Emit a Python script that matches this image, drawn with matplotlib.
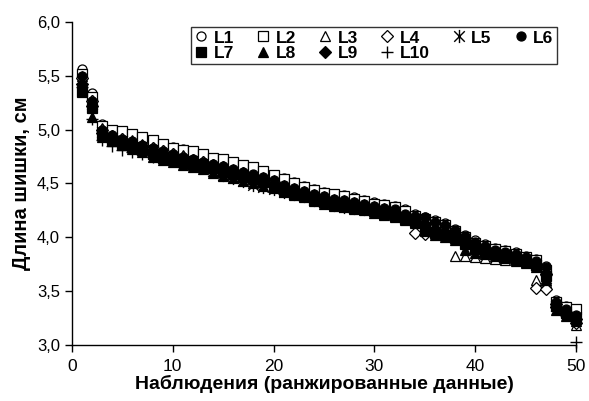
import matplotlib
matplotlib.use("Agg")
import matplotlib.pyplot as plt
from matplotlib.ticker import FuncFormatter
from matplotlib.path import Path
import numpy as np

# ranked cone length values, 50 observations per line
obs = np.arange(1, 51)

L1 = [5.56, 5.34, 5.05, 4.98, 4.95, 4.93, 4.92, 4.88, 4.86, 4.84, 4.82, 4.79, 4.76, 4.74, 4.71, 4.69, 4.66, 4.64, 4.61, 4.58,
      4.55, 4.51, 4.48, 4.45, 4.42, 4.40, 4.39, 4.37, 4.35, 4.33, 4.31, 4.29, 4.26, 4.22, 4.19, 4.16, 4.13, 4.08, 4.02, 3.97,
      3.94, 3.90, 3.88, 3.86, 3.83, 3.80, 3.73, 3.42, 3.36, 3.32]
L2 = [5.52, 5.30, 5.03, 5.00, 4.99, 4.96, 4.93, 4.90, 4.87, 4.83, 4.81, 4.80, 4.77, 4.74, 4.73, 4.70, 4.67, 4.65, 4.62, 4.58,
      4.54, 4.50, 4.47, 4.44, 4.41, 4.40, 4.38, 4.36, 4.34, 4.31, 4.30, 4.28, 4.24, 4.20, 4.17, 4.14, 4.11, 4.06, 4.00, 3.95,
      3.92, 3.89, 3.87, 3.84, 3.82, 3.79, 3.70, 3.40, 3.35, 3.33]
L3 = [5.50, 5.28, 5.02, 4.95, 4.92, 4.90, 4.87, 4.84, 4.81, 4.78, 4.76, 4.73, 4.71, 4.68, 4.66, 4.63, 4.61, 4.58, 4.56, 4.53,
      4.49, 4.46, 4.43, 4.40, 4.38, 4.36, 4.35, 4.33, 4.31, 4.29, 4.27, 4.25, 4.21, 4.17, 4.13, 4.08, 4.03, 3.83, 3.83, 3.82,
      3.81, 3.80, 3.79, 3.78, 3.76, 3.60, 3.58, 3.37, 3.30, 3.18]
L4 = [5.48, 5.27, 5.00, 4.94, 4.91, 4.88, 4.85, 4.83, 4.80, 4.77, 4.75, 4.72, 4.70, 4.67, 4.65, 4.62, 4.60, 4.57, 4.54, 4.51,
      4.47, 4.44, 4.41, 4.38, 4.36, 4.34, 4.33, 4.31, 4.29, 4.27, 4.25, 4.23, 4.20, 4.04, 4.03, 4.03, 4.02, 4.00, 3.97, 3.92,
      3.89, 3.86, 3.84, 3.81, 3.79, 3.53, 3.52, 3.35, 3.28, 3.20]
L5 = [5.45, 5.24, 4.98, 4.92, 4.89, 4.86, 4.83, 4.80, 4.77, 4.73, 4.70, 4.68, 4.65, 4.62, 4.58, 4.55, 4.52, 4.49, 4.47, 4.45,
      4.42, 4.40, 4.38, 4.35, 4.33, 4.30, 4.28, 4.27, 4.26, 4.25, 4.24, 4.22, 4.19, 4.16, 4.13, 4.10, 4.06, 4.02, 3.97, 3.92,
      3.89, 3.86, 3.84, 3.82, 3.80, 3.74, 3.62, 3.36, 3.31, 3.26]
L6 = [5.50, 5.27, 5.00, 4.95, 4.91, 4.89, 4.86, 4.83, 4.80, 4.77, 4.75, 4.73, 4.70, 4.68, 4.66, 4.63, 4.61, 4.59, 4.56, 4.53,
      4.49, 4.46, 4.43, 4.40, 4.38, 4.36, 4.35, 4.33, 4.31, 4.29, 4.27, 4.26, 4.22, 4.20, 4.19, 4.14, 4.11, 4.07, 4.01, 3.96,
      3.92, 3.88, 3.86, 3.84, 3.82, 3.78, 3.72, 3.40, 3.33, 3.28]
L7 = [5.35, 5.20, 4.95, 4.90, 4.87, 4.84, 4.81, 4.77, 4.74, 4.72, 4.70, 4.68, 4.66, 4.64, 4.61, 4.59, 4.56, 4.54, 4.51, 4.47,
      4.43, 4.40, 4.38, 4.35, 4.33, 4.31, 4.29, 4.27, 4.26, 4.24, 4.22, 4.20, 4.17, 4.14, 4.08, 4.04, 4.02, 3.99, 3.94, 3.89,
      3.86, 3.84, 3.82, 3.80, 3.78, 3.74, 3.64, 3.36, 3.30, 3.25]
L8 = [5.38, 5.12, 4.93, 4.89, 4.86, 4.82, 4.79, 4.75, 4.72, 4.70, 4.67, 4.65, 4.63, 4.60, 4.57, 4.55, 4.52, 4.50, 4.48, 4.46,
      4.42, 4.39, 4.37, 4.34, 4.31, 4.29, 4.28, 4.26, 4.25, 4.23, 4.21, 4.19, 4.16, 4.13, 4.06, 4.02, 4.00, 3.97, 3.88, 3.85,
      3.84, 3.83, 3.81, 3.79, 3.77, 3.72, 3.60, 3.32, 3.27, 3.22]
L9 = [5.42, 5.22, 4.97, 4.91, 4.88, 4.85, 4.82, 4.79, 4.76, 4.73, 4.71, 4.69, 4.67, 4.64, 4.62, 4.59, 4.57, 4.54, 4.52, 4.49,
      4.45, 4.42, 4.39, 4.37, 4.35, 4.33, 4.31, 4.29, 4.28, 4.26, 4.24, 4.22, 4.18, 4.15, 4.12, 4.08, 4.05, 4.01, 3.96, 3.91,
      3.88, 3.86, 3.84, 3.81, 3.79, 3.75, 3.66, 3.38, 3.31, 3.24]
L10 = [5.40, 5.10, 4.90, 4.85, 4.81, 4.79, 4.77, 4.75, 4.73, 4.71, 4.69, 4.67, 4.65, 4.62, 4.59, 4.57, 4.54, 4.51, 4.49, 4.47,
       4.44, 4.41, 4.39, 4.36, 4.34, 4.32, 4.30, 4.28, 4.27, 4.25, 4.23, 4.21, 4.18, 4.15, 4.12, 4.07, 4.04, 4.01, 3.96, 3.91,
       3.88, 3.85, 3.83, 3.81, 3.79, 3.75, 3.65, 3.35, 3.29, 3.03]

series = [L1, L2, L3, L4, L5, L6, L7, L8, L9, L10]
names = ["L1", "L2", "L3", "L4", "L5", "L6", "L7", "L8", "L9", "L10"]

# Excel style asterisk: an x with a vertical bar through it
star = Path([(-1, -1), (1, 1), (-1, 1), (1, -1), (0, -1.25), (0, 1.25)],
            [Path.MOVETO, Path.LINETO, Path.MOVETO, Path.LINETO, Path.MOVETO, Path.LINETO])

markers = ["o", "s", "^", "D", star, "o", "s", "^", "D", "+"]
filled = [False, False, False, False, None, True, True, True, True, None]
sizes = [6.5, 6.5, 7, 6, 9.5, 6.5, 6.5, 7, 6, 9]

plt.rcParams["font.family"] = ["Liberation Sans", "DejaVu Sans"]

fig = plt.figure(figsize=(5.89, 4.01), dpi=100)
ax = fig.add_axes([0.122, 0.14, 0.856, 0.805])

handles = []
for ys, name, m, f, s in zip(series, names, markers, filled, sizes):
    if f is None:
        h, = ax.plot(obs, ys, linestyle="none", marker=m, markersize=s,
                     color="black", markeredgewidth=1.0, label=name, clip_on=False)
    else:
        h, = ax.plot(obs, ys, linestyle="none", marker=m, markersize=s,
                     markerfacecolor="black" if f else "white",
                     markeredgecolor="black", markeredgewidth=0.9, label=name, clip_on=False)
    handles.append(h)

ax.set_xlim(0, 50)
ax.set_ylim(3.0, 6.0)
ax.set_xticks([0, 10, 20, 30, 40, 50])
ax.set_yticks([3.0, 3.5, 4.0, 4.5, 5.0, 5.5, 6.0])
ax.yaxis.set_major_formatter(FuncFormatter(lambda v, p: f"{v:.1f}".replace(".", ",")))

for side in ["top", "right"]:
    ax.spines[side].set_visible(False)
for side in ["left", "bottom"]:
    ax.spines[side].set_linewidth(1.0)
    ax.spines[side].set_color("black")

ax.tick_params(axis="both", direction="out", length=5, width=1, labelsize=12, colors="black")
ax.tick_params(axis="x", pad=5, labelsize=12.5)

ax.set_xlabel("Наблюдения (ранжированные данные)", fontsize=14, fontweight="bold", labelpad=1)
ax.set_ylabel("Длина шишки, см", fontsize=14.5, fontweight="bold", labelpad=4)

# row-major legend order for 6 columns
order = [0, 6, 1, 7, 2, 8, 3, 9, 4, 5]
leg = ax.legend([handles[i] for i in order], [names[i] for i in order],
                ncol=6, loc="upper right", bbox_to_anchor=(0.962, 0.985),
                frameon=True, fancybox=False, edgecolor="black",
                prop={"weight": "bold", "size": 12.5},
                handlelength=0.8, handletextpad=0.3, columnspacing=1.3,
                labelspacing=0.0, borderpad=0.2, borderaxespad=0)
leg.get_frame().set_linewidth(1.0)

fig.savefig("out.png", dpi=100)
